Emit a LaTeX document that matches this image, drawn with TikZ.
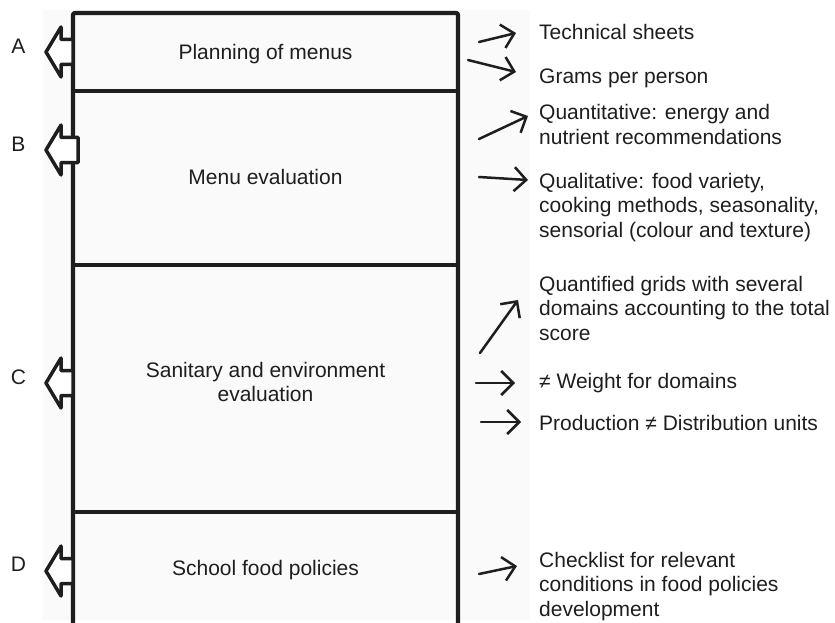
\documentclass[tikz,border=0pt]{standalone}
\usepackage{fontspec}
\setmainfont{Liberation Sans}
\usetikzlibrary{arrows.meta}
\definecolor{ink}{HTML}{1E1E1E}
\definecolor{panel}{HTML}{FAFAFA}
% left-pointing block arrow: #1 name, #2 centre y, #3 x of the shaft end
\newcommand\sideflag[3]{%
  \draw[flagarrow] (46,#2) coordinate (#1)
    -- (61,#2-25) -- (61,#2-12.5) -- (#3,#2-12.5)
    -- (#3,#2+12.5) -- (61,#2+12.5) -- (61,#2+25) -- cycle;}
\begin{document}
\begin{tikzpicture}[x=1pt,y=-1pt,
  frame/.style={line width=4.2pt, draw=ink, line join=round, rounded corners=2pt},
  flagarrow/.style={line width=3.5pt, draw=ink, fill=white, line join=round},
  pointer/.style={line width=2.5pt, draw=ink, line cap=round,
    -{Straight Barb[length=12pt,width=24pt,line width=2.5pt]}},
  txt/.style={font=\fontsize{21}{24.5}\selectfont, text=ink, inner sep=0pt},
  note/.style={txt, anchor=base west},
  stage/.style={txt, anchor=base},
  letter/.style={txt, anchor=base},
]
\useasboundingbox (0,0) rectangle (835,623);
\fill[panel] (43,10) rectangle (530,620);

% stacked stage boxes, open at the bottom
\draw[frame] (73,623) -- (73,13) -- (458,13) -- (458,623);
\draw[frame] (73,91) -- (458,91);
\draw[frame] (73,265) -- (458,265);
\draw[frame] (73,512) -- (458,512);

\node[stage] (plan) at (265.5,60) {Planning of menus};
\node[stage] (eval) at (265.5,184) {Menu evaluation};
\node[stage] (sani) at (265.5,377) {\begin{tabular}[t]{@{}c@{}}Sanitary and environment\\ evaluation\end{tabular}};
\node[stage] (poli) at (265.5,575) {School food policies};

% stage markers on the left
\sideflag{fa}{52}{73}
\sideflag{fb}{150}{78}
\sideflag{fc}{383}{73}
\sideflag{fd}{571}{73}
\node[letter] (la) at (18.5,54) {A};
\node[letter] (lb) at (18.5,151) {B};
\node[letter] (lc) at (18.5,384) {C};
\node[letter] (ld) at (18.5,571) {D};

% outcomes on the right
\node[note] (n1) at (539,40) {Technical sheets};
\node[note] (n2) at (539,84) {Grams per person};
\node[note] (n3) at (539,120) {\begin{tabular}[t]{@{}l@{}}Quantitative: energy and\\ nutrient recommendations\end{tabular}};
\node[note] (n4) at (539,188) {\begin{tabular}[t]{@{}l@{}}Qualitative: food variety,\\ cooking methods, seasonality,\\ sensorial (colour and texture)\end{tabular}};
\node[note] (n5) at (539,291) {\begin{tabular}[t]{@{}l@{}}Quantified grids with several\\ domains accounting to the total\\ score\end{tabular}};
\node[note] (n6) at (539,388) {≠ Weight for domains};
\node[note] (n7) at (539,430) {Production ≠ Distribution units};
\node[note] (n8) at (539,567) {\begin{tabular}[t]{@{}l@{}}Checklist for relevant\\ conditions in food policies\\ development\end{tabular}};

\coordinate (s1) at (479,42);  \coordinate (e1) at (516,33);
\coordinate (s2) at (468,60);  \coordinate (e2) at (516,72);
\coordinate (s3) at (479,139); \coordinate (e3) at (528,116);
\coordinate (s4) at (479,177); \coordinate (e4) at (528,180);
\coordinate (s5) at (480,353); \coordinate (e5) at (518,300);
\coordinate (s6) at (476,383); \coordinate (e6) at (515,383);
\coordinate (s7) at (481,422); \coordinate (e7) at (521,422);
\coordinate (s8) at (479,574); \coordinate (e8) at (517,566);
\foreach \i in {1,...,8} \draw[pointer] (s\i) -- (e\i);
\end{tikzpicture}
\end{document}
